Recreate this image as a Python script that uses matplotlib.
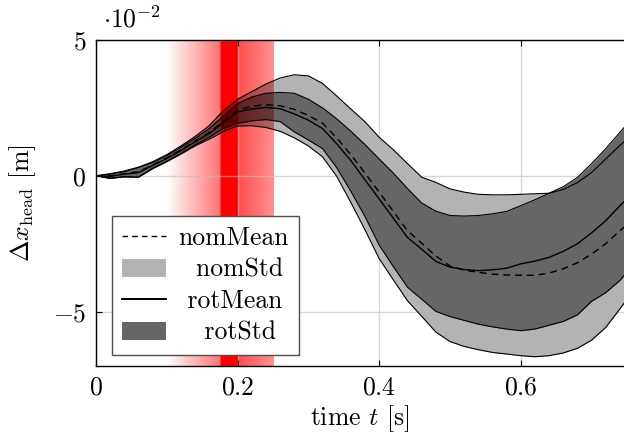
import numpy as np
import matplotlib.pyplot as plt
from matplotlib.lines import Line2D
from matplotlib.patches import Patch

plt.rcParams['font.family'] = 'cmr10'
plt.rcParams['mathtext.fontset'] = 'cm'
plt.rcParams['axes.formatter.use_mathtext'] = True
plt.rcParams['font.size'] = 18.5

# time axis [s], values in units of 1e-2 m
t = [0.00, 0.02, 0.04, 0.06, 0.08, 0.10, 0.12, 0.14, 0.16, 0.18,
     0.20, 0.22, 0.24, 0.26, 0.28, 0.30, 0.32, 0.34, 0.36, 0.38,
     0.40, 0.42, 0.44, 0.46, 0.48, 0.50, 0.52, 0.54, 0.56, 0.58,
     0.60, 0.62, 0.64, 0.66, 0.68, 0.70, 0.72, 0.74, 0.75]

nom_hi = [0, 0.08, 0.18, 0.32, 0.52, 0.78, 1.10, 1.45, 1.85, 2.40,
          2.82, 3.10, 3.38, 3.60, 3.72, 3.68, 3.40, 2.94, 2.46, 1.99,
          1.42, 0.96, 0.45, -0.05, -0.24, -0.48, -0.60, -0.68, -0.70, -0.70,
          -0.68, -0.66, -0.64, -0.50, -0.25, 0.12, 0.62, 1.12, 1.35]
nom_lo = [0, -0.10, -0.04, -0.05, 0.26, 0.52, 0.80, 1.10, 1.35, 1.62,
          1.83, 1.84, 1.78, 1.64, 1.40, 1.10, 0.70, -0.02, -0.98, -1.99,
          -3.05, -3.83, -4.60, -5.17, -5.75, -6.10, -6.28, -6.40, -6.50, -6.56,
          -6.62, -6.66, -6.62, -6.52, -6.35, -6.05, -5.58, -4.90, -4.55]
nom_mean = [0, 0.00, 0.08, 0.15, 0.40, 0.66, 0.96, 1.28, 1.60, 2.00,
            2.42, 2.56, 2.62, 2.58, 2.45, 2.22, 1.94, 1.40, 0.78, 0.10,
            -0.60, -1.31, -2.02, -2.48, -2.95, -3.32, -3.47, -3.55, -3.62, -3.65,
            -3.66, -3.66, -3.58, -3.42, -3.20, -2.88, -2.50, -2.02, -1.80]
rot_hi = [0, 0.06, 0.15, 0.30, 0.48, 0.74, 1.05, 1.38, 1.75, 2.20,
          2.66, 2.90, 3.04, 3.07, 3.04, 2.82, 2.50, 2.10, 1.64, 1.15,
          0.62, 0.10, -0.47, -1.00, -1.30, -1.46, -1.48, -1.46, -1.40, -1.31,
          -1.10, -0.88, -0.64, -0.40, -0.06, 0.45, 1.00, 1.60, 1.90]
rot_lo = [0, -0.08, -0.03, -0.05, 0.28, 0.54, 0.83, 1.14, 1.42, 1.74,
          1.93, 2.02, 2.07, 2.00, 1.62, 1.32, 1.00, 0.30, -0.57, -1.50,
          -2.55, -3.34, -4.10, -4.54, -4.99, -5.18, -5.32, -5.46, -5.56, -5.64,
          -5.70, -5.64, -5.50, -5.36, -5.12, -4.62, -4.30, -3.85, -3.55]
rot_mean = [0, -0.02, 0.06, 0.12, 0.38, 0.64, 0.93, 1.25, 1.56, 1.95,
            2.35, 2.46, 2.52, 2.47, 2.28, 2.05, 1.74, 1.18, 0.56, -0.15,
            -0.85, -1.56, -2.27, -2.70, -3.15, -3.36, -3.45, -3.49, -3.46, -3.40,
            -3.24, -3.14, -3.00, -2.78, -2.50, -2.10, -1.65, -1.10, -0.85]

# highlighted time window: fade-in, core, tail
win_start, core_start, core_end, win_end = 0.10, 0.175, 0.20, 0.25

NOM_GRAY = 0.70
ROT_GRAY = 0.40

fig = plt.figure(figsize=(6.24, 4.37), dpi=100)
ax = fig.add_axes([96 / 624, 71 / 437, 528 / 624, 326 / 437])

# red shading as a white-multiplier g(x): colour = (1, g, g)
sx = np.linspace(win_start, win_end, 400)
g = np.ones_like(sx)
ramp = sx < core_start
g[ramp] = 1.0 - 0.55 * (sx[ramp] - win_start) / (core_start - win_start)
g[(sx >= core_start) & (sx < core_end)] = 0.0
tail = sx >= core_end
g[tail] = 0.3 + 0.27 * (sx[tail] - core_end) / (win_end - core_end)


def shade(base):
    img = np.zeros((1, len(sx), 3))
    img[0, :, 0] = base
    img[0, :, 1] = base * g
    img[0, :, 2] = base * g
    return img


ext = [win_start, win_end, -7, 5]
ax.imshow(shade(1.0), extent=ext, aspect='auto', interpolation='bilinear', zorder=0.3)

ax.grid(True, color='#bfbfbf', lw=1.0, alpha=0.6, zorder=0.5)
ax.set_axisbelow(True)

nom_fill = ax.fill_between(t, nom_lo, nom_hi, color=str(NOM_GRAY), lw=0, zorder=2)
im = ax.imshow(shade(NOM_GRAY), extent=ext, aspect='auto', interpolation='bilinear', zorder=2.1)
im.set_clip_path(nom_fill.get_paths()[0], ax.transData)

rot_fill = ax.fill_between(t, rot_lo, rot_hi, color=str(ROT_GRAY), lw=0, zorder=2.2)
im = ax.imshow(shade(ROT_GRAY), extent=ext, aspect='auto', interpolation='bilinear', zorder=2.3)
im.set_clip_path(rot_fill.get_paths()[0], ax.transData)

for edge in (nom_hi, nom_lo, rot_hi, rot_lo):
    ax.plot(t, edge, color='black', lw=0.8, zorder=3)
ax.plot(t, nom_mean, color='black', lw=1.0, ls=(0, (5, 3.5)), zorder=3)
ax.plot(t, rot_mean, color='black', lw=1.0, zorder=3)

ax.set_xlim(0, 0.7458)
ax.set_ylim(-7, 5)
ax.set_xticks([0, 0.2, 0.4, 0.6])
ax.set_xticklabels(['$0$', '$0.2$', '$0.4$', '$0.6$'])
ax.set_yticks([-5, 0, 5])
ax.set_yticklabels(['$-5$', '$0$', '$5$'])
ax.tick_params(direction='in', length=4, width=0.8, top=True, pad=7)
ax.spines['right'].set_visible(False)
for s in ('left', 'bottom', 'top'):
    ax.spines[s].set_linewidth(1.0)

ax.text(0.013, 1.022, r'$\cdot 10^{-2}$', transform=ax.transAxes, ha='left', va='bottom')
ax.set_xlabel(r'time $t$ [s]', labelpad=3)
ax.set_ylabel(r'$\Delta x_{\mathrm{head}}$ [m]', labelpad=11)

handles = [
    Line2D([], [], color='black', lw=1.0, ls=(0, (4, 3))),
    Patch(facecolor=str(NOM_GRAY), edgecolor='none'),
    Line2D([], [], color='black', lw=1.4),
    Patch(facecolor=str(ROT_GRAY), edgecolor='none'),
]
labels = ['nomMean', '  nomStd', ' rotMean', '   rotStd']
leg = ax.legend(handles, labels, loc='lower left', bbox_to_anchor=(0.03, 0.034),
                borderaxespad=0, fancybox=False, framealpha=1, edgecolor='0.3',
                handlelength=1.7, handletextpad=0.5, borderpad=0.4, labelspacing=0.3)
leg.get_frame().set_linewidth(1.0)
leg.set_zorder(5)

fig.savefig('out.png', dpi=100)
